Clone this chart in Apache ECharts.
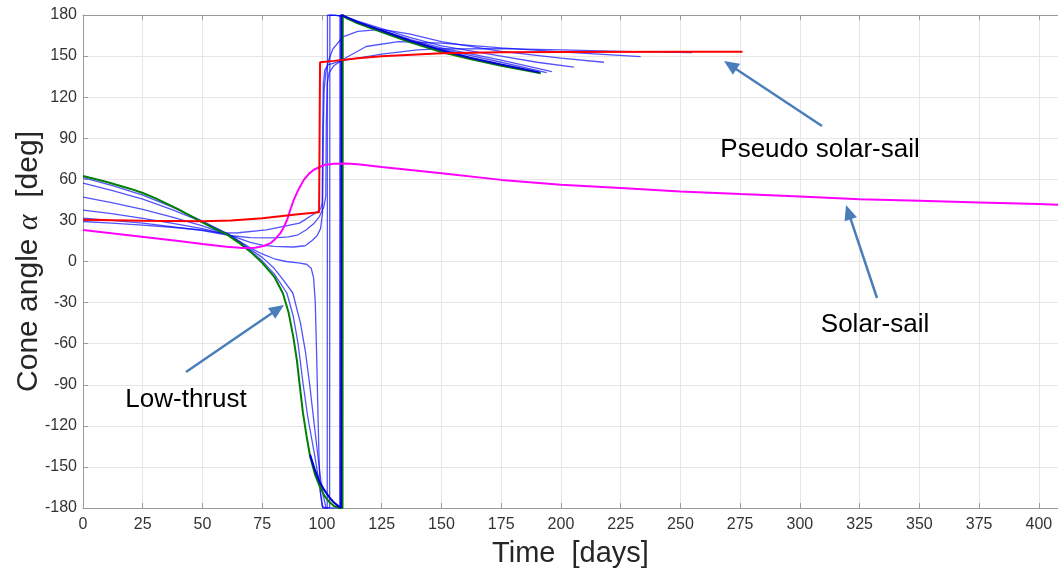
<!DOCTYPE html>
<html>
<head>
<meta charset="utf-8">
<script src="https://cdn.jsdelivr.net/npm/echarts@6/dist/echarts.min.js"></script>
<style>
html,body{margin:0;padding:0;background:#fff;}
#c{width:1058px;height:571px;}
</style>
</head>
<body>
<div id="c"></div>
<script>
// ---- axes ----
const X_MIN = 0, X_MAX = 408, X_STEP = 25;
const Y_MIN = -180, Y_MAX = 180, Y_STEP = 30;

// ---- data: [time (days), cone angle (deg)] ----
const lowThrust = [[0,62.5],[10,58],[20,53],[25,50],[30,46.5],[40,38],[50,28.5],[55,24],[60,20],[65,14],[70,7.2],[75,-1],[80,-11],[83.6,-23],[86,-37],[88,-55],[89.5,-72],[90.6,-89],[92,-110],[93.5,-127],[95,-142],[97,-155],[99,-164],[101,-171],[103,-175.5],[105,-178.5],[107,-179.8],[108.6,-180],[108.7,180],[110,178],[115,174],[125,167.5],[137,160],[150,153],[162,147.8],[175,143],[191.6,137.5]];
const lowThrustTail = [[95,-141],[97,-152],[99,-161],[101,-167],[103,-172],[105,-176],[107,-178.8],[108,-180],[108.1,180],[110,178.6],[115,174.8],[125,168.6],[137,161.2],[150,154.2],[162,148.8],[175,143.8],[191,138.1]];
const contB = [[0,61.3],[12,55.5],[25,48.5],[37,40],[50,29.5],[61,19.5],[70,8],[75,0.5],[80,-9],[85.3,-23],[88,-40],[90,-60],[92,-88],[94,-113],[97,-142],[98.5,-158],[99.5,-170],[100.3,-180],[107.4,-180],[107.5,180],[110,178.2],[115,174.3],[125,168],[137,161],[150,155],[175,145.5],[194,138]];
const contC = [[0,57.2],[12,52],[25,45.5],[37,38],[50,29],[61,20],[70,9],[75,3],[80,-5],[84,-14],[87.8,-23],[91,-45],[93,-65],[94.8,-89],[96.5,-115],[98.3,-142],[99.5,-160],[100.7,-172],[101.7,-180],[103.2,-180],[103.3,180],[107,179.5],[110,178],[115,174.8],[125,169],[137,162],[150,156],[175,147],[196.2,138.7]];
const contD = [[0,47],[12,43],[25,38],[37,32.5],[50,26],[61,19.5],[70,10],[75,5.5],[80,2],[85,0],[90,-1],[93.5,-2],[95.5,-5],[96.5,-12],[97.2,-30],[97.8,-70],[98.3,-110],[98.8,-145],[99.3,-168],[100,-178],[101,-180],[102.2,-180],[102.3,180],[106,179.8],[110,178.6],[115,175.5],[125,170],[137,163.5],[150,157.5],[175,150],[190,145.5],[205.4,141.9]];
const contE = [[0,37.5],[12,35],[25,31.5],[37,28],[50,24],[61,19.5],[70,14],[75,12],[80,11],[88,10.6],[93,11.5],[96,15.5],[98,19],[99.4,24],[100.2,35],[100.4,60],[100.6,100],[100.9,125],[101.6,138],[102.6,146],[104.5,155],[108.7,164],[115,168],[125,169.5],[137,166],[150,160.5],[175,153.5],[200,148.5],[218,145.5]];
const contF = [[0,31.7],[12,30],[25,28],[37,25.5],[50,22.5],[61,19],[70,17.5],[80,17.3],[86,18],[90,19.5],[93.3,23],[96.5,27.5],[99,33],[100.8,40],[101.6,47.5],[101.8,100],[102.2,130],[103,138],[105,143],[108.7,147.5],[118.5,157],[132,160.5],[150,159.5],[175,156],[200,153],[233.3,149.6]];
const contG = [[0,29.2],[12,28],[25,26.5],[37,25],[50,23],[58,20.7],[65,21],[76.7,23.1],[90.6,28],[97.6,35.8],[99.5,38.5],[100.1,43],[100.3,90],[100.6,130],[101.2,140],[102.5,143.5],[108,146.5],[125,151.5],[140,154.5],[150,155.3],[175,155.5],[200,154.5],[230,153.3],[255,152.5]];
const solarSail = [[0,23],[10,21],[20,19],[30,17],[40,15],[50,12.8],[60,10.8],[67,9.8],[72,10],[76,11.5],[78.4,13.4],[80.5,16.5],[82.6,20.7],[84,25],[85.4,30.4],[86.8,38],[88.2,45],[90.3,53],[92.4,59.6],[94.5,64],[96.6,67],[100.8,70.4],[105,71.3],[110,71.5],[115,71],[125,69],[150,64.5],[175,59.6],[200,56],[225,53.6],[250,51.1],[275,49.2],[300,47.5],[325,45.5],[350,44.3],[375,43.1],[400,41.9],[408,41.5]];
const pseudoSail = [[0,30.4],[25,29.8],[50,29.4],[62,30],[75,31.5],[90,34.5],[98.8,36],[99.2,145.5],[105,146.5],[115,148.5],[125,149.8],[150,152],[175,152.8],[200,153],[250,153.2],[276,153.2]];

const continuation = [contB, contC, contD, contE, contF, contG];
const labels = ['Pseudo solar-sail', 'Solar-sail', 'Low-thrust'];

const chart = echarts.init(document.getElementById('c'));
const FONT = '"Liberation Sans", Arial, sans-serif';
const AX = '#9a9a9a';

function lineSeries(data, color, width, z) {
  return { type: 'line', data: data, showSymbol: false, symbol: 'none', animation: false,
    lineStyle: { color: color, width: width }, z: z, clip: true };
}

const series = [];
continuation.forEach(d => series.push(lineSeries(d, 'rgba(0,0,255,0.68)', 1.3, 2)));
series.push(lineSeries(lowThrust, '#008000', 2, 3));
series.push(lineSeries(lowThrustTail, '#0000d0', 2, 4));
series.push(lineSeries(solarSail, '#ff00ff', 2, 5));
series.push(lineSeries(pseudoSail, '#ff0000', 2, 6));

// annotations (pixel layout)
const ARROW = '#4a7ebb';
function arrow(x1, y1, x2, y2) {
  const L = 15, W = 6.5;
  const dx = x2 - x1, dy = y2 - y1, len = Math.hypot(dx, dy);
  const ux = dx / len, uy = dy / len, px = -uy, py = ux;
  const bx = x2 - ux * L, by = y2 - uy * L;
  return [
    { type: 'line', shape: { x1: x1, y1: y1, x2: bx + ux * 2, y2: by + uy * 2 }, style: { stroke: ARROW, lineWidth: 2.5 }, z: 10 },
    { type: 'polygon', shape: { points: [[x2, y2], [bx + px * W, by + py * W], [bx - px * W, by - py * W]] }, style: { fill: ARROW }, z: 10 }
  ];
}
const txtStyle = { fill: '#000', fontSize: 26, fontFamily: FONT, align: 'center', verticalAlign: 'middle' };
const graphic = [
  { type: 'text', x: 820, y: 150, style: Object.assign({ text: labels[0] }, txtStyle), z: 10 },
  { type: 'text', x: 875, y: 325, style: Object.assign({ text: labels[1] }, txtStyle), z: 10 },
  { type: 'text', x: 186, y: 400, style: Object.assign({ text: labels[2] }, txtStyle), z: 10 },
  ...arrow(822, 126, 724, 61),
  ...arrow(877, 298, 846, 205),
  ...arrow(186, 372, 284, 305)
];

chart.setOption({
  animation: false,
  grid: { left: 83, right: 0, top: 15, bottom: 63, containLabel: false, outerBoundsMode: 'none' },
  xAxis: [{
    type: 'value', min: X_MIN, max: X_MAX, interval: X_STEP, position: 'bottom',
    name: 'Time  [days]', nameLocation: 'middle', nameGap: 31, nameMoveOverlap: false,
    nameTextStyle: { fontSize: 29, fontFamily: FONT, color: '#262626', verticalAlign: 'top' },
    axisLine: { show: true, onZero: false, lineStyle: { color: AX, width: 1 } },
    axisTick: { show: true, inside: true, length: 5, lineStyle: { color: AX } },
    axisLabel: { fontSize: 16, fontFamily: FONT, color: '#333', margin: 9, showMaxLabel: false },
    splitLine: { show: true, lineStyle: { color: '#e6e6e6', width: 1 } }
  }, {
    type: 'value', min: X_MIN, max: X_MAX, interval: X_STEP, position: 'top',
    axisLine: { show: true, onZero: false, lineStyle: { color: AX, width: 1 } },
    axisTick: { show: true, inside: true, length: 5, lineStyle: { color: AX } },
    axisLabel: { show: false }, splitLine: { show: false }
  }],
  yAxis: [{
    type: 'value', min: Y_MIN, max: Y_MAX, interval: Y_STEP,
    name: '{a|Cone angle }{b|α}{a|  [deg]}', nameLocation: 'middle', nameGap: 39, nameMoveOverlap: false,
    nameTextStyle: { fontSize: 30, fontFamily: FONT, color: '#262626',
      rich: { a: { fontSize: 30, fontFamily: FONT, color: '#262626' },
              b: { fontSize: 30, fontFamily: '"Liberation Serif", serif', fontStyle: 'italic', color: '#262626' } } },
    axisLine: { show: true, onZero: false, lineStyle: { color: AX, width: 1 } },
    axisTick: { show: true, inside: true, length: 5, lineStyle: { color: AX } },
    axisLabel: { fontSize: 16, fontFamily: FONT, color: '#333', margin: 6 },
    splitLine: { show: true, lineStyle: { color: '#e6e6e6', width: 1 } }
  }],
  series: series,
  graphic: graphic
});
</script>
</body>
</html>
